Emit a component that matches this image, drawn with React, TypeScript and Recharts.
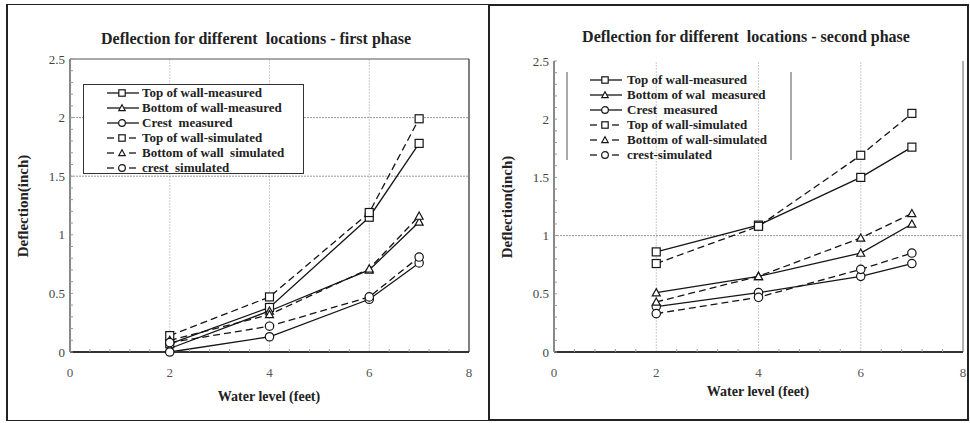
import React from "react";
import { Legend, Line, LineChart, ReferenceLine, XAxis, YAxis } from "recharts";

// water level (feet) at which deflections were recorded
const waterLevel = [2, 4, 6, 7];

// first phase (inch)
const topMeasured1 = [0.07, 0.38, 1.15, 1.78];
const bottomMeasured1 = [0.03, 0.35, 0.7, 1.11];
const crestMeasured1 = [0, 0.13, 0.45, 0.76];
const topSimulated1 = [0.14, 0.47, 1.19, 1.99];
const bottomSimulated1 = [0.1, 0.32, 0.71, 1.16];
const crestSimulated1 = [0.08, 0.22, 0.47, 0.81];

// second phase (inch)
const topMeasured2 = [0.86, 1.09, 1.5, 1.76];
const bottomMeasured2 = [0.51, 0.65, 0.85, 1.1];
const crestMeasured2 = [0.39, 0.51, 0.65, 0.76];
const topSimulated2 = [0.76, 1.08, 1.69, 2.05];
const bottomSimulated2 = [0.43, 0.65, 0.98, 1.19];
const crestSimulated2 = [0.33, 0.47, 0.71, 0.85];

const legend1 = [
  "Top of wall-measured",
  "Bottom of wall-measured",
  "Crest  measured",
  "Top of wall-simulated",
  "Bottom of wall  simulated",
  "crest  simulated",
];
const legend2 = [
  "Top of wall-measured",
  "Bottom of wal  measured",
  "Crest  measured",
  "Top of wall-simulated",
  "Bottom of wall-simulated",
  "crest-simulated",
];

// major ticks get a label, the rest are minor marks only
const xMajor = [0, 2, 4, 6, 8];
const yMajor = [0, 0.5, 1, 1.5, 2, 2.5];
const xTicks = [0, 0.4, 0.8, 1.2, 1.6, 2, 2.4, 2.8, 3.2, 3.6, 4, 4.4, 4.8, 5.2, 5.6, 6, 6.4, 6.8, 7.2, 7.6, 8];
const yTicks = [
  0, 0.1, 0.2, 0.3, 0.4, 0.5, 0.6, 0.7, 0.8, 0.9, 1, 1.1, 1.2, 1.3, 1.4, 1.5, 1.6, 1.7, 1.8, 1.9, 2, 2.1, 2.2,
  2.3, 2.4, 2.5,
];

const FONT = '"Liberation Serif", "DejaVu Serif", serif';
const INK = "#151515";
const X_MARGIN = 16;
const Y_MARGIN = 5;

type Shape = "square" | "triangle" | "circle";
const keys = ["topM", "bottomM", "crestM", "topS", "bottomS", "crestS"];
const shapes: Shape[] = ["square", "triangle", "circle", "square", "triangle", "circle"];
const dashed = [false, false, false, true, true, true];

function buildRows(series: number[][]) {
  return waterLevel.map((x, i) => {
    const row: Record<string, number> = { x };
    keys.forEach((k, j) => (row[k] = series[j][i]));
    return row;
  });
}

const rows1 = buildRows([topMeasured1, bottomMeasured1, crestMeasured1, topSimulated1, bottomSimulated1, crestSimulated1]);
const rows2 = buildRows([topMeasured2, bottomMeasured2, crestMeasured2, topSimulated2, bottomSimulated2, crestSimulated2]);

function Marker({ shape, cx, cy, s = 1 }: { shape: Shape; cx: number; cy: number; s?: number }) {
  const p = { fill: "#fff", stroke: INK, strokeWidth: 1.2 };
  if (shape === "square") return <rect x={cx - 4 * s} y={cy - 4 * s} width={8 * s} height={8 * s} {...p} />;
  if (shape === "triangle")
    return <polygon points={`${cx},${cy - 4 * s} ${cx + 4 * s},${cy + 3.2 * s} ${cx - 4 * s},${cy + 3.2 * s}`} {...p} />;
  return <circle cx={cx} cy={cy} r={4.2 * s} {...p} />;
}

const dotFor = (shape: Shape) => (props: any) =>
  <Marker key={`${shape}-${props.index}-${props.dataKey}`} shape={shape} cx={props.cx} cy={props.cy} />;

function XTick(props: any) {
  const { x, y, payload } = props;
  const axisY = y - X_MARGIN;
  const major = xMajor.includes(payload.value);
  return (
    <g>
      {!major && <line x1={x} y1={axisY} x2={x} y2={axisY - 3} stroke="#999" />}
      {major && (
        <text x={x} y={y} dy="0.71em" textAnchor="middle" fill="#555" fontSize={13} fontFamily={FONT}>
          {payload.value}
        </text>
      )}
    </g>
  );
}

function YTick(props: any) {
  const { x, y, payload } = props;
  const axisX = x + Y_MARGIN;
  const major = yMajor.includes(payload.value);
  return (
    <g>
      <line x1={axisX} y1={y} x2={axisX + 3} y2={y} stroke="#999" />
      {major && (
        <text x={x} y={y} dy="0.355em" textAnchor="end" fill="#444" fontSize={13} fontFamily={FONT}>
          {payload.value}
        </text>
      )}
    </g>
  );
}

function Sample({ shape, dash }: { shape: Shape; dash: boolean }) {
  return (
    <svg width={32} height={12} style={{ display: "block" }}>
      {dash ? (
        <>
          <line x1={0} y1={6} x2={7} y2={6} stroke={INK} strokeWidth={1.3} />
          <line x1={22} y1={6} x2={29} y2={6} stroke={INK} strokeWidth={1.3} />
        </>
      ) : (
        <line x1={0} y1={6} x2={32} y2={6} stroke={INK} strokeWidth={1.3} />
      )}
      <Marker shape={shape} cx={15} cy={6} s={0.8} />
    </svg>
  );
}

function LegendBox({ labels, boxed, pad, gap }: { labels: string[]; boxed: boolean; pad: number; gap: number }) {
  return (
    <div
      style={{
        background: boxed ? "#fff" : "transparent",
        borderTop: boxed ? "1px solid #333" : "none",
        borderBottom: boxed ? "1px solid #333" : "none",
        borderLeft: boxed ? "1px solid #333" : "2px solid #aaa",
        borderRight: boxed ? "1px solid #333" : "2px solid #aaa",
        boxSizing: "border-box",
        height: boxed ? 90 : 88,
        fontFamily: FONT,
        fontWeight: "bold",
        fontSize: 13,
        color: "#222",
      }}
    >
      {labels.map((l, i) => (
        <div key={l} style={{ display: "flex", alignItems: "center", height: 15, paddingLeft: pad }}>
          <Sample shape={shapes[i]} dash={dashed[i]} />
          <span style={{ marginLeft: gap, whiteSpace: "pre", lineHeight: "15px" }}>{l}</span>
        </div>
      ))}
    </div>
  );
}

function Panel(props: {
  rows: Record<string, number>[];
  labels: string[];
  left: number;
  margin: { top: number; right: number; bottom: number; left: number };
  hLines: number[];
  topBorder: boolean;
  legendPos: { left: number; top: number; width: number };
  boxed: boolean;
  pad: number;
  gap: number;
}) {
  const { rows, labels, left, margin, hLines, topBorder, legendPos, boxed, pad, gap } = props;
  return (
    <div style={{ position: "absolute", left, top: 0 }}>
      <LineChart width={485} height={423} data={rows} margin={margin}>
        <XAxis
          type="number"
          dataKey="x"
          domain={[0, 8]}
          ticks={xTicks}
          interval={0}
          height={30}
          tickLine={false}
          tickSize={0}
          tickMargin={X_MARGIN}
          axisLine={{ stroke: "#333", strokeWidth: 2 }}
          tick={XTick}
        />
        <YAxis
          type="number"
          domain={[0, 2.5]}
          ticks={yTicks}
          interval={0}
          width={40}
          tickLine={false}
          tickSize={0}
          tickMargin={Y_MARGIN}
          axisLine={{ stroke: "#888", strokeWidth: 2 }}
          tick={YTick}
        />
        {[2, 4, 6].map((v) => (
          <ReferenceLine key={`vx${v}`} x={v} stroke="#ccc" strokeDasharray="2 1" />
        ))}
        {hLines.map((v) => (
          <ReferenceLine key={`hy${v}`} y={v} stroke="#999" strokeDasharray="2 1" />
        ))}
        {topBorder && <ReferenceLine y={2.5} stroke="#555" />}
        <ReferenceLine x={8} stroke={topBorder ? "#555" : "#999"} strokeWidth={1.5} />
        <Legend
          layout="vertical"
          align="center"
          verticalAlign="middle"
          wrapperStyle={{ left: legendPos.left, top: legendPos.top, width: legendPos.width }}
          content={() => <LegendBox labels={labels} boxed={boxed} pad={pad} gap={gap} />}
        />
        {keys.map((k, i) => (
          <Line
            key={k}
            dataKey={k}
            name={labels[i]}
            type="linear"
            stroke={INK}
            strokeWidth={1.3}
            strokeDasharray={dashed[i] ? "7 4" : undefined}
            dot={dotFor(shapes[i])}
            isAnimationActive={false}
          />
        ))}
      </LineChart>
    </div>
  );
}

const text = (extra: React.CSSProperties): React.CSSProperties => ({
  position: "absolute",
  fontFamily: FONT,
  fontWeight: "bold",
  color: "#222",
  whiteSpace: "pre",
  transform: "translate(-50%, -50%)",
  ...extra,
});

export default function App() {
  return (
    <div style={{ position: "absolute", left: 0, top: 0, width: 970, height: 423, background: "#fff", overflow: "hidden" }}>
      <div style={{ position: "absolute", left: 6, top: 4, width: 483, height: 417, borderLeft: "2px solid #222", borderTop: "1px solid #222", borderBottom: "1px solid #222", boxSizing: "border-box" }} />
      <div style={{ position: "absolute", left: 488, top: 4, width: 481, height: 417, border: "2px solid #222", boxSizing: "border-box" }} />

      <Panel
        rows={rows1}
        labels={legend1}
        left={0}
        margin={{ top: 59, right: 16, bottom: 41, left: 30 }}
        hLines={[1.5, 2]}
        topBorder
        legendPos={{ left: 83, top: 84, width: 221 }}
        boxed
        pad={23}
        gap={3}
      />
      <Panel
        rows={rows2}
        labels={legend2}
        left={485}
        margin={{ top: 61, right: 7, bottom: 41, left: 29 }}
        hLines={[1]}
        topBorder={false}
        legendPos={{ left: 81, top: 72, width: 226 }}
        boxed={false}
        pad={22}
        gap={5}
      />

      <div style={text({ left: 256, top: 39, fontSize: 16 })}>Deflection for different  locations - first phase</div>
      <div style={text({ left: 746, top: 37, fontSize: 16 })}>Deflection for different  locations - second phase</div>
      <div style={text({ left: 23, top: 206, fontSize: 15, transform: "translate(-50%, -50%) rotate(-90deg)" })}>Deflection(inch)</div>
      <div style={text({ left: 507, top: 207, fontSize: 15, transform: "translate(-50%, -50%) rotate(-90deg)" })}>Deflection(inch)</div>
      <div style={text({ left: 269, top: 397, fontSize: 14 })}>Water level (feet)</div>
      <div style={text({ left: 758, top: 392, fontSize: 14 })}>Water level (feet)</div>
    </div>
  );
}
